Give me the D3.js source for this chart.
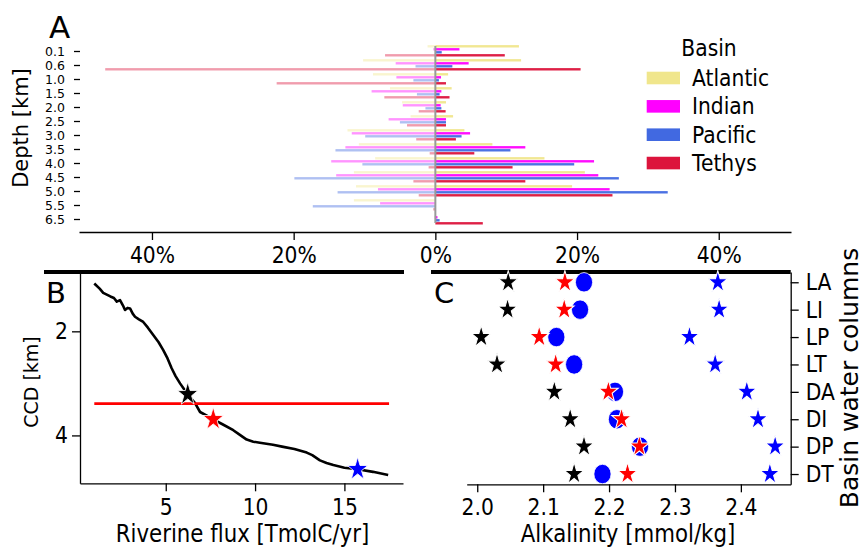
<!DOCTYPE html>
<html><head><meta charset="utf-8">
<script src="https://cdn.jsdelivr.net/npm/d3@7"></script>
<style>
body{margin:0;background:#fff}
svg{display:block}
text{font-family:"DejaVu Sans",sans-serif;fill:#000}
</style>
</head><body>
<svg id="c" width="864" height="548"></svg>
<script>
// ---------- Panel A data ----------
const depths = ["0.1","0.6","1.0","1.5","2.0","2.5","3.0","3.5","4.0","4.5","5.0","5.5","6.5"];
const basins = ["Atlantic","Indian","Pacific","Tethys"];
const atlanticRight = [11.8,12.1,1.8,2.3,1.5,2.5,4.1,8.05,15.4,21.1,19.3,0,0];
const indianRight   = [3.4,4.7,0.8,0.85,0.75,1.5,4.9,12.7,22.4,23.0,24.6,0,0.3];
const pacificRight  = [0.9,2.4,0.5,0.6,0.85,1.5,3.7,10.6,19.6,25.9,32.8,0,0.6];
const tethysRight   = [9.8,20.5,1.5,2.0,1.45,1.5,2.9,5.5,10.9,12.7,25.0,0,6.7];
const atlanticLeft  = [1.1,10.2,8.8,6.4,4.7,3.5,12.4,10.8,8.5,11.5,11.2,11.5,0];
const indianLeft    = [0.3,5.6,5.5,9.0,4.6,6.6,11.8,12.7,14.7,14.0,8.1,7.8,0.1];
const pacificLeft   = [0,2.8,3.1,2.6,1.4,5.0,9.9,14.1,10.3,19.9,13.8,17.3,0];
const tethysLeft    = [7.1,46.6,22.4,7.2,2.35,4.0,2.7,0.8,0.95,3.1,2.35,0.3,0];
const pctTicks = [-40,-20,0,20,40];

// ---------- Panel B data ----------
const flux = [1.0,1.3,1.5,1.9,2.1,2.26,2.44,2.6,2.72,2.86,3.0,3.15,3.28,3.5,3.74,4.0,4.3,4.6,4.86,5.1,5.33,5.55,5.8,6.0,6.23,6.45,6.64,6.92,7.3,7.66,8.2,8.78,9.15,9.53,9.9,10.27,11.0,11.58,12.2,12.89,13.2,13.63,14.0,14.38,15.0,15.74,16.6,17.45];
const ccd  = [1.08,1.18,1.26,1.33,1.36,1.43,1.40,1.50,1.59,1.55,1.56,1.66,1.72,1.77,1.82,1.93,2.07,2.21,2.36,2.52,2.71,2.86,3.00,3.10,3.21,3.30,3.38,3.55,3.62,3.69,3.79,3.90,3.99,4.08,4.12,4.14,4.18,4.22,4.26,4.33,4.38,4.48,4.53,4.57,4.62,4.65,4.70,4.76];
const refCCD = 3.39;
const refFluxRange = [1.0, 17.5];
const starFlux = [6.23, 7.66, 15.74];
const starCCD  = [3.21, 3.69, 4.65];
const fluxTicks = [5,10,15];
const ccdTicks = [2,4];

// ---------- Panel C data ----------
const columns = ["LA","LI","LP","LT","DA","DI","DP","DT"];
const blackStar  = [2.047,2.046,2.006,2.030,2.117,2.141,2.162,2.147];
const redStar    = [2.133,2.132,2.094,2.119,2.199,2.219,2.246,2.228];
const blueCircle = [2.162,2.156,2.120,2.147,2.209,2.212,2.247,2.190];
const blueStar   = [2.365,2.367,2.322,2.361,2.409,2.426,2.452,2.444];
const alkTicks = [2.0,2.1,2.2,2.3,2.4];

// ---------- styles ----------
const S = 1.13;          // vertical stretch of glyphs / markers
const FS = 20.3;         // tick / legend font
const LFS = 21.3;        // axis label font
const basinColors = ["#F0E68C","#FF00FF","#4169E1","#DC143C"];
const svg = d3.select("#c");

function styleAxis(g, fs, horizontal, baseRel, stretch){
  const s = stretch === undefined ? S : stretch;
  g.selectAll("path.domain").attr("stroke","#000").attr("stroke-width",1.3);
  g.selectAll(".tick line").attr("stroke","#000").attr("stroke-width",1.3);
  const t = g.selectAll(".tick text").attr("font-family","DejaVu Sans").attr("font-size",fs).attr("fill","#000");
  if (horizontal) t.attr("y", baseRel / s).attr("dy", 0).attr("transform", `scale(1,${s})`);
  else t.attr("transform", `scale(1,${s})`);
}
function addText(x, y, str, fs, anchor){
  return svg.append("text").attr("transform", `translate(${x},${y}) scale(1,${S})`)
    .attr("text-anchor", anchor || "start").attr("font-size", fs).text(str);
}

// =============== Panel A ===============
const xA = d3.scaleLinear().domain([-50.3, 50.2]).range([79, 791]);
const yA = d3.scalePoint().domain(depths).range([44, 226]).padding(0.5);
const rightSeries = [atlanticRight, indianRight, pacificRight, tethysRight];
const leftSeries = [atlanticLeft, indianLeft, pacificLeft, tethysLeft];
const barH = 2.4, barStep = 3;
const gA = svg.append("g");
leftSeries.forEach((vals, i) => {
  gA.selectAll(null).data(vals).enter().append("rect")
    .attr("x", d => xA(-d)).attr("width", d => xA(0) - xA(-d))
    .attr("y", (d, j) => yA(depths[j]) + (i - 1.5) * barStep - barH/2 - 0.2)
    .attr("height", barH)
    .attr("fill", basinColors[i]).attr("fill-opacity", 0.42);
});
rightSeries.forEach((vals, i) => {
  gA.selectAll(null).data(vals).enter().append("rect")
    .attr("x", xA(0)).attr("width", d => xA(d) - xA(0))
    .attr("y", (d, j) => yA(depths[j]) + (i - 1.5) * barStep - barH/2 - 0.2)
    .attr("height", barH)
    .attr("fill", basinColors[i]).attr("fill-opacity", 0.95);
});
gA.append("line").attr("x1", xA(0)).attr("x2", xA(0))
  .attr("y1", yA(depths[0]) - 5).attr("y2", yA(depths[depths.length-1]) + 4)
  .attr("stroke", "#999").attr("stroke-width", 2);

const axA = svg.append("g").attr("transform","translate(0,232)")
  .call(d3.axisBottom(xA).tickValues(pctTicks).tickFormat(d => Math.abs(d) + "%").tickSize(8).tickSizeOuter(0));
styleAxis(axA, FS, true, 31);
const ayA = svg.append("g").attr("transform","translate(80,0)")
  .call(d3.axisLeft(yA).tickSize(6).tickPadding(9));
ayA.select("path.domain").remove();
styleAxis(ayA, 12.5, false, 0, 1.0);

svg.append("text").attr("transform","translate(28,128) rotate(-90)").attr("text-anchor","middle")
  .attr("font-size", 21).text("Depth [km]");
svg.append("text").attr("x",49).attr("y",38).attr("font-size",31).text("A");

// legend
addText(709, 55.5, "Basin", FS, "middle");
basins.forEach((b, i) => {
  const cy = 78 + i * 28.35;
  svg.append("rect").attr("x",646.7).attr("y",cy - 6.3).attr("width",33.3).attr("height",12.6).attr("fill",basinColors[i]);
  addText(692, cy + 8, b, FS);
});

// =============== Panel B ===============
const xB = d3.scaleLinear().domain([0.2, 18.28]).range([80, 403]);
const yB = d3.scaleLinear().domain([0.86, 4.92]).range([272, 483.3]);
const gB = svg.append("g");
gB.append("line").attr("x1",44).attr("x2",xB.range()[1]+1).attr("y1",272).attr("y2",272)
  .attr("stroke","#000").attr("stroke-width",4);
gB.append("path").datum(flux.map((f,i)=>[f, ccd[i]]))
  .attr("d", d3.line().x(d=>xB(d[0])).y(d=>yB(d[1])))
  .attr("fill","none").attr("stroke","#000").attr("stroke-width",2.6).attr("stroke-linejoin","round");
gB.append("line").attr("x1",xB(refFluxRange[0])).attr("x2",xB(refFluxRange[1]))
  .attr("y1",yB(refCCD)).attr("y2",yB(refCCD)).attr("stroke","#ff0000").attr("stroke-width",2.6);
const starColorsB = ["#000","#ff0000","#0000ff"];
const starSym = d3.symbol().type(d3.symbolStar);
starFlux.forEach((f,i)=>{
  gB.append("path").attr("d", starSym.size(130)())
    .attr("transform",`translate(${xB(f)},${yB(starCCD[i])}) scale(1,${S})`)
    .attr("fill",starColorsB[i]).attr("stroke","#fff").attr("stroke-width",0.8);
});
const axBx = svg.append("g").attr("transform",`translate(0,${yB.range()[1]})`)
  .call(d3.axisBottom(xB).tickValues(fluxTicks).tickSize(8).tickSizeOuter(0));
styleAxis(axBx, FS, true, 32);
const axBy = svg.append("g").attr("transform",`translate(${xB.range()[0]},0)`)
  .call(d3.axisLeft(yB).tickValues(ccdTicks).tickFormat(d3.format("d")).tickSize(8).tickPadding(4).tickSizeOuter(0));
styleAxis(axBy, FS, false);
svg.append("text").attr("x",46).attr("y",303).attr("font-size",29).text("B");
svg.append("text").attr("transform","translate(38,382) rotate(-90)").attr("text-anchor","middle")
  .attr("font-size",19).text("CCD [km]");
addText(242.5, 541.5, "Riverine flux [TmolC/yr]", LFS, "middle");

// =============== Panel C ===============
const xC = d3.scaleLinear().domain([1.984, 2.4756]).range([466.7, 790.7]);
const yC = d3.scalePoint().domain(columns).range([272, 484.3]).padding(0.375);
const gC = svg.append("g");
gC.append("line").attr("x1",431).attr("x2",xC.range()[1]).attr("y1",272).attr("y2",272)
  .attr("stroke","#000").attr("stroke-width",4);
gC.selectAll(null).data(blueCircle).enter().append("ellipse")
  .attr("cx", d=>xC(d)).attr("cy",(d,i)=>yC(columns[i])).attr("rx",8.6).attr("ry",8.6*S)
  .attr("fill","#0000ff").attr("stroke","#fff").attr("stroke-width",0.8);
[[blackStar,"#000"],[redStar,"#ff0000"],[blueStar,"#0000ff"]].forEach(([vals,col])=>{
  gC.selectAll(null).data(vals).enter().append("path")
    .attr("d", starSym.size(118)())
    .attr("transform",(d,i)=>`translate(${xC(d)},${yC(columns[i])}) scale(1,${S})`)
    .attr("fill",col).attr("stroke","#fff").attr("stroke-width",1);
});
const axCx = svg.append("g").attr("transform",`translate(0,${yC.range()[1]})`)
  .call(d3.axisBottom(xC).tickValues(alkTicks).tickFormat(d3.format(".1f")).tickSize(8).tickSizeOuter(0));
styleAxis(axCx, FS, true, 31);
const axCy = svg.append("g").attr("transform",`translate(${xC.range()[1]},0)`)
  .call(d3.axisRight(yC).tickSize(8).tickPadding(7).tickSizeOuter(0));
styleAxis(axCy, FS, false);
svg.append("text").attr("x",434).attr("y",303).attr("font-size",29).text("C");
addText(628, 541.5, "Alkalinity [mmol/kg]", LFS, "middle");
svg.append("text").attr("transform","translate(858,378) rotate(-90)").attr("text-anchor","middle")
  .attr("font-size",25).text("Basin water columns");
</script>
</body></html>
